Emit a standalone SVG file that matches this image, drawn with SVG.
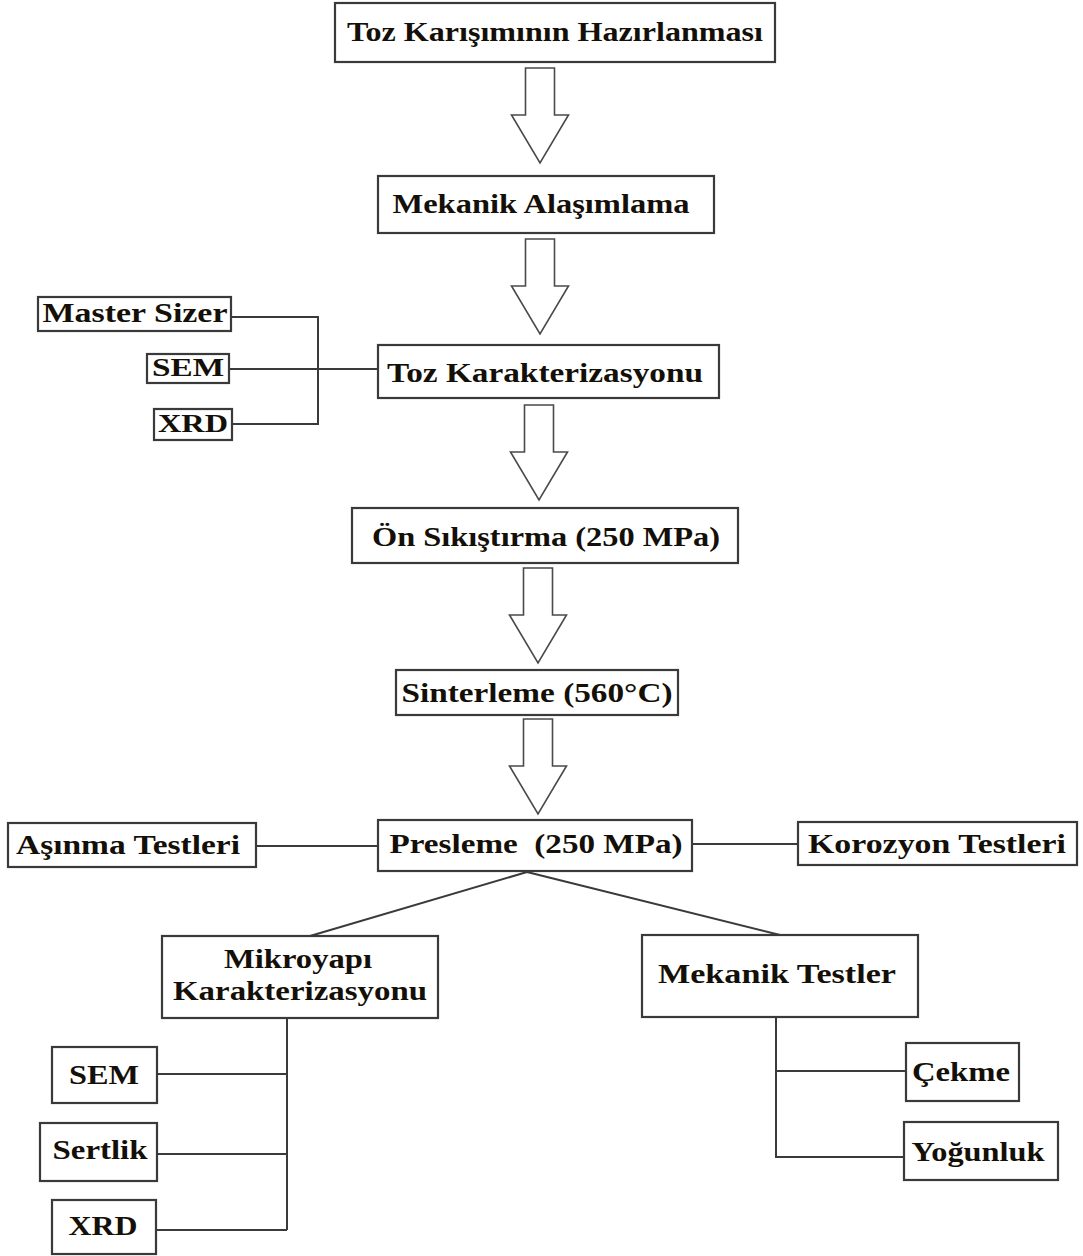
<svg xmlns="http://www.w3.org/2000/svg" xmlns:xlink="http://www.w3.org/1999/xlink" width="1083" height="1256" viewBox="0 0 1083 1256">
<style>
.box{fill:#fff;stroke:#3a3a3a;stroke-width:2.2}
.t{font-family:"Liberation Serif","Times New Roman",serif;font-weight:bold;font-size:27px;fill:#141008}
.s{font-size:25px}
.ln{fill:none;stroke:#3a3a3a;stroke-width:2}
.arr{fill:#fff;stroke:#4a4a4a;stroke-width:1.6}
</style>
<defs>
<path id="bigArrow" d="M-14.5 0 H14.5 V47 H28.5 L0 95 L-28.5 47 H-14.5 Z"/>
</defs>
<rect width="1083" height="1256" fill="#fff"/>

<g id="connectors">
<use href="#bigArrow" class="arr" transform="translate(540,68)"/>
<use href="#bigArrow" class="arr" transform="translate(540,239)"/>
<use href="#bigArrow" class="arr" transform="translate(539,405)"/>
<use href="#bigArrow" class="arr" transform="translate(538,568)"/>
<use href="#bigArrow" class="arr" transform="translate(538,719)"/>
<path class="ln" d="M231 317 H318 V424 H232"/>
<path class="ln" d="M229 369 H378"/>
<path class="ln" d="M256 846 H378"/>
<path class="ln" d="M692 844 H798"/>
<path class="ln" d="M527 872 L310 936 M527 872 L780 935"/>
<path class="ln" d="M287 1018 V1230 M157 1074 H287 M157 1154 H287 M156 1230 H287"/>
<path class="ln" d="M776 1017 V1157 H904 M776 1071 H906"/>
</g>

<g id="n1"><rect class="box" x="335" y="3" width="440" height="59"/><text class="t" x="555" y="41" text-anchor="middle" textLength="416" lengthAdjust="spacingAndGlyphs">Toz Karışımının Hazırlanması</text></g>
<g id="n2"><rect class="box" x="378" y="176" width="336" height="57"/><text class="t" x="541" y="213" text-anchor="middle" textLength="297" lengthAdjust="spacingAndGlyphs">Mekanik Alaşımlama</text></g>
<g id="n3"><rect class="box" x="378" y="345" width="341" height="53"/><text class="t" x="545" y="382" text-anchor="middle" textLength="316" lengthAdjust="spacingAndGlyphs">Toz Karakterizasyonu</text></g>
<g id="n3a"><rect class="box" x="38" y="297" width="193" height="34"/><text class="t" x="135" y="322" text-anchor="middle" textLength="185" lengthAdjust="spacingAndGlyphs">Master Sizer</text></g>
<g id="n3b"><rect class="box" x="147" y="354" width="82" height="29"/><text class="t s" x="188" y="376" text-anchor="middle" textLength="72" lengthAdjust="spacingAndGlyphs">SEM</text></g>
<g id="n3c"><rect class="box" x="154" y="409" width="78" height="31"/><text class="t s" x="193" y="432" text-anchor="middle" textLength="70" lengthAdjust="spacingAndGlyphs">XRD</text></g>
<g id="n4"><rect class="box" x="352" y="508" width="386" height="55"/><text class="t" x="546" y="546" text-anchor="middle" textLength="348" lengthAdjust="spacingAndGlyphs">Ön Sıkıştırma (250 MPa)</text></g>
<g id="n5"><rect class="box" x="396" y="670" width="282" height="45"/><text class="t" x="537" y="702" text-anchor="middle" textLength="271" lengthAdjust="spacingAndGlyphs">Sinterleme (560°C)</text></g>
<g id="n6"><rect class="box" x="378" y="820" width="314" height="51"/><text class="t" x="536" y="853" text-anchor="middle" textLength="293" lengthAdjust="spacingAndGlyphs" xml:space="preserve">Presleme  (250 MPa)</text></g>
<g id="n6a"><rect class="box" x="8" y="823" width="248" height="44"/><text class="t" x="128" y="854" text-anchor="middle" textLength="224" lengthAdjust="spacingAndGlyphs">Aşınma Testleri</text></g>
<g id="n6b"><rect class="box" x="798" y="822" width="279" height="43"/><text class="t" x="937" y="853" text-anchor="middle" textLength="258" lengthAdjust="spacingAndGlyphs">Korozyon Testleri</text></g>
<g id="n7"><rect class="box" x="162" y="936" width="276" height="82"/><text class="t" x="298" y="968" text-anchor="middle" textLength="148" lengthAdjust="spacingAndGlyphs">Mikroyapı</text><text class="t" x="300" y="1000" text-anchor="middle" textLength="254" lengthAdjust="spacingAndGlyphs">Karakterizasyonu</text></g>
<g id="n7a"><rect class="box" x="52" y="1047" width="105" height="56"/><text class="t" x="104" y="1084" text-anchor="middle" textLength="70" lengthAdjust="spacingAndGlyphs">SEM</text></g>
<g id="n7b"><rect class="box" x="40" y="1123" width="117" height="58"/><text class="t" x="100" y="1159" text-anchor="middle" textLength="95" lengthAdjust="spacingAndGlyphs">Sertlik</text></g>
<g id="n7c"><rect class="box" x="52" y="1200" width="104" height="54"/><text class="t" x="103" y="1235" text-anchor="middle" textLength="69" lengthAdjust="spacingAndGlyphs">XRD</text></g>
<g id="n8"><rect class="box" x="642" y="935" width="276" height="82"/><text class="t" x="777" y="983" text-anchor="middle" textLength="238" lengthAdjust="spacingAndGlyphs">Mekanik Testler</text></g>
<g id="n8a"><rect class="box" x="906" y="1043" width="113" height="58"/><text class="t" x="961" y="1081" text-anchor="middle" textLength="98" lengthAdjust="spacingAndGlyphs">Çekme</text></g>
<g id="n8b"><rect class="box" x="904" y="1122" width="154" height="58"/><text class="t" x="978" y="1161" text-anchor="middle" textLength="133" lengthAdjust="spacingAndGlyphs">Yoğunluk</text></g>
</svg>
